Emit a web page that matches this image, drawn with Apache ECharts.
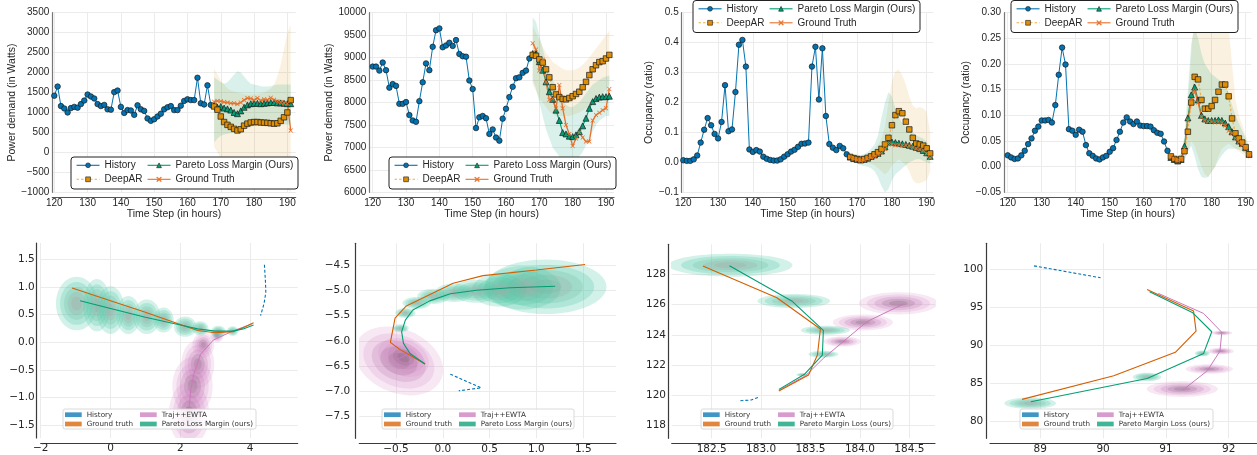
<!DOCTYPE html>
<html><head><meta charset="utf-8">
<script src="https://cdn.jsdelivr.net/npm/echarts@6/dist/echarts.min.js"></script>
<style>html,body{margin:0;padding:0;background:#fff}#c{width:1257px;height:455px}</style>
</head><body><div id="c"></div>
<script>
// ================= DATA =================
const hoursHist = [120,121,122,123,124,125,126,127,128,129,130,131,132,133,134,135,136,137,138,139,140,141,142,143,144,145,146,147,148,149,150,151,152,153,154,155,156,157,158,159,160,161,162,163,164,165,166,167];
const hoursFcst = [168,169,170,171,172,173,174,175,176,177,178,179,180,181,182,183,184,185,186,187,188,189,190,191];

// Panel 1 (power demand)
const p1Hist = [1420,1650,1160,1100,1000,1110,1140,1120,1210,1300,1450,1400,1350,1210,1160,1190,1080,1070,1510,1550,1140,990,1060,1050,940,1180,1080,1040,850,790,830,900,970,1080,1130,1160,1060,1060,1170,1290,1330,1310,1310,1870,1230,1200,1680,1190];
const p1Truth = [1270,1290,1280,1260,1250,1230,1230,1210,1250,1310,1360,1350,1310,1360,1300,1330,1320,1370,1320,1280,1260,1240,1220,550];
const p1Pareto = [1180,1130,1150,1110,1090,1060,1000,970,1040,1130,1190,1220,1230,1230,1220,1230,1240,1250,1250,1240,1240,1230,1220,1220];
const p1Deep = [1150,1070,900,760,690,640,590,550,580,670,720,750,760,760,750,745,740,730,720,730,790,880,1000,1310];
const p1ParLo = [250,350,420,450,470,480,490,500,520,560,600,640,660,680,690,700,700,700,700,700,700,700,700,700];
const p1ParHi = [1880,1820,1760,1720,1760,1850,1950,2030,2000,1900,1800,1720,1700,1680,1660,1650,1650,1660,1680,1700,1700,1700,1700,1700];
const p1DeepLo = [150,0,-150,-220,-300,-350,-380,-400,-380,-360,-350,-330,-300,-300,-300,-300,-320,-350,-400,-500,-600,-750,-900,-1000];
const p1DeepHi = [2100,1950,1800,1700,1600,1550,1520,1500,1480,1460,1450,1450,1450,1460,1480,1500,1550,1600,1700,1900,2200,2600,3000,3200];

// Panel 2 (power demand)
const p2Hist = [8800,8800,8710,8890,8720,8330,8410,8370,7970,7970,8010,7720,7600,7570,8030,8450,8870,8720,9240,9610,9650,9230,9270,9330,9260,9390,9080,9030,9020,8490,8300,7430,7670,7700,7650,7300,7400,7220,7150,7640,7860,8120,8350,8540,8560,8660,8710,8980];
const p2Truth = [9320,9180,8710,8950,8460,8060,8090,7870,8390,7870,7500,7300,7030,7200,7330,7220,7130,7130,7600,7720,7770,7830,7870,8300];
const p2Pareto = [9090,9090,8910,8720,8460,8240,8070,7830,7600,7330,7300,7250,7240,7280,7350,7480,7650,7870,8020,8090,8120,8130,8130,8140];
const p2Deep = [9060,9040,8960,8890,8740,8560,8340,8180,8120,8080,8070,8100,8140,8190,8240,8340,8460,8610,8740,8830,8900,8920,8980,9060];
const p2ParLo = [8500,8300,8000,7700,7400,7200,7000,6900,6800,6750,6700,6700,6700,6750,6800,6900,7050,7200,7350,7500,7600,7650,7700,7700];
const p2ParHi = [9900,9800,9500,9200,8900,8700,8500,8350,8200,8050,7950,7900,7900,7950,8000,8100,8200,8300,8400,8450,8500,8550,8580,8600];
const p2DeepLo = [8400,8250,8100,8000,7900,7800,7750,7700,7700,7700,7700,7700,7720,7750,7780,7820,7870,7920,7980,8050,8120,8200,8300,8400];
const p2DeepHi = [9700,9550,9400,9250,9100,9000,8900,8850,8800,8750,8720,8720,8720,8740,8780,8840,8920,9000,9100,9200,9300,9400,9500,9600];

// Panel 3 (occupancy)
const p3Hist = [0.007,0.005,0.005,0.01,0.023,0.066,0.109,0.148,0.124,0.095,0.08,0.135,0.258,0.104,0.11,0.235,0.393,0.409,0.32,0.043,0.035,0.041,0.036,0.019,0.012,0.008,0.006,0.006,0.01,0.019,0.027,0.036,0.042,0.052,0.062,0.063,0.066,0.32,0.386,0.21,0.381,0.155,0.061,0.049,0.041,0.055,0.047,0.027];
const p3Truth = [0.018,0.012,0.008,0.005,0.007,0.012,0.016,0.02,0.026,0.032,0.045,0.063,0.06,0.057,0.058,0.056,0.057,0.055,0.05,0.046,0.044,0.04,0.03,0.015];
const p3Pareto = [0.018,0.013,0.01,0.008,0.01,0.014,0.02,0.025,0.03,0.038,0.052,0.068,0.068,0.066,0.064,0.062,0.06,0.057,0.054,0.05,0.046,0.04,0.032,0.02];
const p3Deep = [0.018,0.014,0.011,0.009,0.011,0.015,0.02,0.027,0.034,0.045,0.06,0.082,0.124,0.158,0.171,0.164,0.136,0.11,0.082,0.063,0.06,0.056,0.047,0.03];
const p3ParLo = [0.005,0.0,-0.005,-0.01,-0.012,-0.015,-0.02,-0.03,-0.05,-0.08,-0.1,-0.09,-0.06,-0.04,-0.03,-0.02,-0.01,0.0,0.005,0.01,0.01,0.005,0.0,-0.005];
const p3ParHi = [0.03,0.028,0.026,0.025,0.028,0.035,0.045,0.06,0.09,0.15,0.2,0.235,0.22,0.18,0.15,0.13,0.12,0.11,0.1,0.09,0.085,0.08,0.07,0.05];
const p3DeepLo = [0.005,0.002,0.0,-0.002,0.0,0.0,-0.005,-0.01,-0.02,-0.03,-0.04,-0.03,-0.01,0.0,0.01,0.0,-0.01,-0.03,-0.06,-0.07,-0.07,-0.065,-0.06,-0.03];
const p3DeepHi = [0.03,0.028,0.025,0.022,0.025,0.03,0.035,0.045,0.06,0.08,0.12,0.2,0.27,0.305,0.31,0.29,0.26,0.22,0.19,0.18,0.185,0.18,0.17,0.1];

// Panel 4 (occupancy)
const p4Hist = [0.022,0.018,0.015,0.016,0.022,0.031,0.044,0.055,0.07,0.078,0.09,0.09,0.091,0.086,0.12,0.179,0.232,0.199,0.073,0.07,0.062,0.072,0.068,0.042,0.026,0.021,0.016,0.014,0.018,0.021,0.029,0.036,0.052,0.068,0.086,0.096,0.088,0.083,0.088,0.08,0.079,0.079,0.078,0.071,0.066,0.064,0.049,0.031];
const p4Truth = [0.02,0.015,0.012,0.013,0.035,0.09,0.13,0.148,0.125,0.097,0.09,0.088,0.087,0.086,0.087,0.085,0.08,0.07,0.065,0.055,0.048,0.042,0.035,0.022];
const p4Pareto = [0.018,0.014,0.011,0.014,0.04,0.095,0.14,0.155,0.13,0.1,0.093,0.09,0.09,0.09,0.091,0.09,0.085,0.078,0.068,0.058,0.05,0.045,0.037,0.024];
const p4Deep = [0.02,0.015,0.013,0.015,0.03,0.068,0.125,0.175,0.17,0.13,0.113,0.113,0.118,0.13,0.146,0.16,0.16,0.137,0.094,0.065,0.055,0.047,0.038,0.024];
const p4ParLo = [0.012,0.008,0.005,0.005,0.012,0.03,0.04,0.02,-0.005,-0.02,-0.022,-0.02,-0.01,0.0,0.012,0.022,0.03,0.035,0.035,0.035,0.033,0.03,0.025,0.015];
const p4ParHi = [0.025,0.022,0.02,0.025,0.06,0.15,0.24,0.27,0.25,0.22,0.2,0.19,0.18,0.175,0.17,0.165,0.16,0.14,0.12,0.1,0.085,0.07,0.055,0.035];
const p4DeepLo = [0.012,0.01,0.008,0.008,0.015,0.03,0.05,0.04,0.02,0.0,-0.015,-0.02,-0.01,0.0,0.02,0.035,0.04,0.045,0.04,0.035,0.03,0.025,0.02,0.012];
const p4DeepHi = [0.025,0.022,0.02,0.025,0.05,0.12,0.22,0.32,0.33,0.29,0.26,0.27,0.3,0.32,0.33,0.33,0.31,0.27,0.2,0.13,0.1,0.08,0.06,0.04];

// Bottom panels: trajectories [x, y]; density blobs [x, y, rx, ry, rotation]
const t5Hist = [[4.41,1.4],[4.44,1.1],[4.45,0.9],[4.4,0.7],[4.3,0.48]];
const t5Truth = [[4.1,0.35],[3.8,0.26],[3.5,0.19],[3.0,0.17],[2.5,0.21],[2.0,0.32],[1.0,0.54],[0.0,0.75],[-1.1,0.98]];
const t5Pareto = [[4.1,0.31],[3.8,0.24],[3.5,0.2],[3.0,0.2],[2.5,0.24],[2.0,0.31],[1.0,0.45],[0.0,0.61],[-0.87,0.75]];
const t5Traj = [[4.05,0.33],[3.5,0.2],[2.95,0.04],[2.58,-0.22],[2.39,-0.57],[2.3,-0.87],[2.25,-1.2]];
const b5Pareto = [[-0.97,0.70,0.55,0.45],[-0.39,0.67,0.36,0.44],[0.0,0.58,0.37,0.4],[0.51,0.49,0.32,0.32],[1.04,0.46,0.36,0.29],[1.52,0.40,0.27,0.21],[2.14,0.28,0.3,0.17],[2.57,0.25,0.22,0.12],[3.09,0.19,0.2,0.1],[3.5,0.2,0.15,0.08]];
const b5Traj = [[3.05,0.12,0.18,0.12],[2.66,-0.05,0.3,0.22],[2.5,-0.4,0.45,0.42],[2.35,-0.8,0.55,0.5],[2.25,-1.3,0.55,0.55]];

const t6Hist = [[0.08,-6.66],[0.41,-6.93],[0.17,-6.99]];
const t6Truth = [[-0.19,-6.46],[-0.46,-6.17],[-0.56,-6.03],[-0.51,-5.55],[-0.39,-5.31],[0.11,-4.86],[0.43,-4.71],[1.0,-4.6],[1.52,-4.49]];
const t6Pareto = [[-0.19,-6.46],[-0.35,-6.25],[-0.42,-6.05],[-0.44,-5.82],[-0.40,-5.59],[-0.32,-5.39],[-0.14,-5.21],[0.08,-5.07],[0.36,-5.0],[0.72,-4.95],[1.2,-4.92]];
const t6Traj = [[-0.19,-6.45],[-0.33,-6.3],[-0.42,-6.2],[-0.36,-6.24],[-0.44,-6.33],[-0.5,-6.38]];
const b6Pareto = [[1.1,-4.93,0.6,0.5],[0.85,-4.95,0.38,0.4],[0.6,-5.0,0.27,0.3],[0.35,-5.02,0.23,0.21],[0.12,-5.05,0.19,0.17],[-0.1,-5.12,0.16,0.14],[-0.28,-5.25,0.14,0.11],[-0.4,-5.45,0.1,0.09],[-0.45,-5.75,0.08,0.07]];
const b6Traj = [[-0.47,-6.4,0.47,0.6,-0.4],[-0.42,-6.33,0.27,0.34,-0.4]];

const t7Hist = [[182.79,119.65],[182.9,119.7],[182.88,119.8],[182.97,119.87]];
const t7Truth = [[183.18,120.3],[183.48,121.35],[183.57,122.67],[183.6,124.39],[183.16,126.45],[182.41,128.55]];
const t7Pareto = [[183.18,120.4],[183.44,121.4],[183.62,122.67],[183.63,124.3],[183.31,126.24],[182.68,128.57]];
const t7Traj = [[183.18,120.35],[183.45,121.3],[183.63,122.45],[183.83,123.55],[184.07,124.87],[184.44,126.04]];
const b7Pareto = [[182.69,128.6,0.58,0.7],[183.33,126.24,0.34,0.43],[183.65,124.3,0.23,0.28],[183.63,122.72,0.14,0.21],[183.42,121.37,0.06,0.1]];
const b7Traj = [[184.39,126.08,0.38,0.7],[184.03,124.82,0.29,0.5],[183.82,123.56,0.18,0.32]];

const t8Hist = [[88.9,100.43],[89.96,98.86]];
const t8Truth = [[90.70,97.33],[91.44,94.47],[91.48,91.84],[91.15,89.04],[90.17,85.96],[88.71,82.85]];
const t8Pareto = [[90.74,97.01],[91.42,94.3],[91.73,91.75],[91.6,88.9],[90.7,85.6],[88.85,82.54]];
const t8Traj = [[90.88,96.8],[91.6,94.16],[91.89,91.67],[91.86,89.2],[91.66,86.62],[91.27,84.08]];
const b8Pareto = [[88.84,82.33,0.38,0.7],[90.7,85.8,0.21,0.52],[91.58,88.9,0.11,0.35]];
const b8Traj = [[91.26,84.2,0.54,0.98],[91.69,86.84,0.36,0.6],[91.87,89.2,0.2,0.42],[91.89,91.6,0.16,0.28]];

// ================= STYLE / LAYOUT =================
const FT = 'Liberation Sans', FB = 'DejaVu Sans', TXT = '#262626';
const C = {blue:'#0173b2', orange:'#de8f05', green:'#029e73', verm:'#d55e00', pink:'#cc78bc'};
const XSYM = 'path://M0,1.2L1.2,0L5,3.8L8.8,0L10,1.2L6.2,5L10,8.8L8.8,10L5,6.2L1.2,10L0,8.8L3.8,5Z';

const grids = [
  {left:52.3, top:12.7, width:243.4, height:179.6},
  {left:369.3, top:12.7, width:244.7, height:179.6},
  {left:681.7, top:12.7, width:251.6, height:179.6},
  {left:1004, top:12.7, width:247.7, height:179.6},
  {left:40.7, top:243, width:257, height:195},
  {left:359.3, top:243.3, width:256.7, height:195},
  {left:671.7, top:244.3, width:263.3, height:194},
  {left:990, top:243.3, width:267, height:195}
];

function fmtFn(dec){ return v => { let s = (Math.abs(v) < 1e-9 ? 0 : v).toFixed(dec); return s.replace('-', '\u2212'); }; }
function axis(gi, ext, step, dec, o) {
  const min = ext[0], max = ext[1];
  const isT = v => Math.abs(v/step - Math.round(v/step)) < 1e-6;
  const f = fmtFn(dec);
  const a = {
    type:'value', gridIndex:gi, min, max, minInterval:step, maxInterval:step,
    splitNumber: Math.max(1, Math.round((max-min)/step)),
    offset: o.offset || 0,
    axisLine:{show:true, onZero:false, lineStyle:{color:o.lc, width:o.lw}},
    axisTick:{show:false},
    axisLabel:{show:true, margin:o.margin, fontSize:o.fs, fontFamily:o.font, color:TXT,
      showMinLabel:isT(min), showMaxLabel:isT(max), formatter: v => isT(v) ? f(v) : ''},
    splitLine:{show:true, showMinLine:isT(min), showMaxLine:isT(max), lineStyle:{color:'#ebebeb', width:1}}
  };
  if (o.name) {
    a.name = o.name; a.nameLocation = 'middle'; a.nameGap = o.nameGap;
    a.nameTextStyle = {fontSize:10.5, fontFamily:FT, color:TXT};
  }
  return a;
}

const xAxes = [], yAxes = [];
const topX = [[119.4,192.5],[118.98,192.4],[119.54,191.9],[118.9,191.67]];
const topY = [[[-1000,3500],500,0,'Power demand (in Watts)',34.3],[[6000,10000],500,0,'Power demand (in Watts)',32.3],[[-0.1,0.5],0.1,1,'Occupancy (ratio)',26.4],[[-0.05,0.30],0.05,2,'Occupancy (ratio)',29.4]];
for (let i=0;i<4;i++){
  xAxes.push(axis(i, topX[i], 10, 0, {offset:4.5, lc:'#555', lw:1.2, margin:1, fs:10, font:FT, name:'Time Step (in hours)', nameGap:9}));
  yAxes.push(axis(i, topY[i][0], topY[i][1], topY[i][2], {offset:0, lc:'#777', lw:1.2, margin:3, fs:10, font:FT, name:topY[i][3], nameGap:topY[i][4]}));
}
const botX = [[[-2.0,5.364],2,0],[[-0.892,1.85],0.5,1],[[182.095,184.76],0.5,1],[[88.2,92.45],1,0]];
const botY = [[[-1.735,1.795],0.5,1,4,2],[[-7.93,-4.07],0.5,1,3.6,5.5],[[117.17,129.98],2,0,3.4,2.3],[[77.72,103.4],5,0,3.3,3.4]];
for (let i=0;i<4;i++){
  xAxes.push(axis(4+i, botX[i][0], botX[i][1], botX[i][2], {offset:5, lc:'#3a3a3a', lw:1.2, margin:0, fs:10.5, font:FB}));
  yAxes.push(axis(4+i, botY[i][0], botY[i][1], botY[i][2], {offset:botY[i][3], lc:'#3a3a3a', lw:1.2, margin:botY[i][4], fs:10.5, font:FB}));
}

// ================= SERIES =================
const series = [];
function band(gi, lo, hi, fill){
  series.push({type:'custom', xAxisIndex:gi, yAxisIndex:gi, z:1, silent:true, clip:true, animation:false,
    data: hoursFcst.map((x,i)=>[x, lo[i], hi[i]]), encode:{x:0, y:[1,2]},
    renderItem:(params, api)=>{
      if (params.dataIndex !== 0) return null;
      const top = hoursFcst.map((x,i)=>api.coord([x, hi[i]]));
      const bot = hoursFcst.map((x,i)=>api.coord([x, lo[i]])).reverse();
      return {type:'polygon', shape:{points: top.concat(bot)}, style:{fill}};
    }});
}
const STY = {
  'History': {sym:'circle', size:5.5, color:C.blue, line:{color:C.blue, width:1}, border:'#1a1a1a'},
  'Pareto Loss Margin (Ours)': {sym:'triangle', size:6, color:C.green, line:{color:C.green, width:1.1}, border:'#1a1a1a'},
  'DeepAR': {sym:'rect', size:5.5, color:C.orange, line:{color:'#f0b048', width:1.2, type:[2.5,2]}, border:'#1a1a1a'},
  'Ground Truth': {sym:XSYM, size:4.5, color:'#e8702a', line:{color:'#e8702a', width:1.3}, border:null}
};
function tline(gi, name, xs, ys){
  const s = STY[name];
  series.push({type:'line', name, xAxisIndex:gi, yAxisIndex:gi, z:2, silent:true, animation:false,
    data: xs.map((x,i)=>[x, ys[i]]), symbol:s.sym, symbolSize:s.size, showSymbol:true, showAllSymbol:true,
    itemStyle:{color:s.color, borderColor:s.border || s.color, borderWidth:s.border?0.7:0},
    lineStyle:s.line, emphasis:{disabled:true}});
}
const tops = [
  [p1Hist,p1Pareto,p1Deep,p1Truth,p1ParLo,p1ParHi,p1DeepLo,p1DeepHi],
  [p2Hist,p2Pareto,p2Deep,p2Truth,p2ParLo,p2ParHi,p2DeepLo,p2DeepHi],
  [p3Hist,p3Pareto,p3Deep,p3Truth,p3ParLo,p3ParHi,p3DeepLo,p3DeepHi],
  [p4Hist,p4Pareto,p4Deep,p4Truth,p4ParLo,p4ParHi,p4DeepLo,p4DeepHi]
];
tops.forEach((d,gi)=>{
  band(gi, d[6], d[7], 'rgba(222,143,5,0.12)');
  band(gi, d[4], d[5], 'rgba(2,158,115,0.15)');
  tline(gi,'History', hoursHist, d[0]);
  tline(gi,'Pareto Loss Margin (Ours)', hoursFcst, d[1]);
  tline(gi,'DeepAR', hoursFcst, d[2]);
  tline(gi,'Ground Truth', hoursFcst, d[3]);
});

const GREEN_L = [[1.08,'rgba(80,200,165,0.26)'],[0.86,'rgba(80,200,165,0.26)'],[0.66,'rgba(115,190,165,0.26)'],[0.47,'rgba(160,176,168,0.3)'],[0.28,'rgba(168,168,168,0.32)']];
const PINK_L = [[1.05,'rgba(214,140,200,0.2)'],[0.84,'rgba(214,140,200,0.22)'],[0.64,'rgba(190,120,175,0.24)'],[0.44,'rgba(150,105,140,0.26)'],[0.25,'rgba(120,100,115,0.26)']];
function blobs(gi, data, layers){
  series.push({type:'custom', xAxisIndex:gi, yAxisIndex:gi, z:1, silent:true, clip:true, animation:false,
    data, encode:{x:0, y:1},
    renderItem:(params, api)=>{
      const c = api.coord([api.value(0), api.value(1)]);
      const s = api.size([api.value(2), api.value(3)]);
      const rot = api.value(4) || 0;
      return {type:'group', children: layers.map(l=>({type:'ellipse', x:c[0], y:c[1], rotation:rot,
        shape:{cx:0, cy:0, rx:s[0]*l[0], ry:s[1]*l[0]}, style:{fill:l[1]}}))};
    }});
}
function bline(gi, name, pts, color, width, type){
  series.push({type:'line', name, xAxisIndex:gi, yAxisIndex:gi, z:2, silent:true, animation:false,
    data: pts, showSymbol:false, symbol:'none', itemStyle:{color}, lineStyle:{color, width, type:type||'solid'}, emphasis:{disabled:true}});
}
const bots = [
  [t5Hist,t5Truth,t5Pareto,t5Traj,b5Pareto,b5Traj,'Pareto Loss Margin (ours)'],
  [t6Hist,t6Truth,t6Pareto,t6Traj,b6Pareto,b6Traj,'Pareto Loss Margin (ours)'],
  [t7Hist,t7Truth,t7Pareto,t7Traj,b7Pareto,b7Traj,'Pareto Margin Loss (ours)'],
  [t8Hist,t8Truth,t8Pareto,t8Traj,b8Pareto,b8Traj,'Pareto Margin Loss (ours)']
];
bots.forEach((d,k)=>{
  const gi = 4+k;
  blobs(gi, d[5], PINK_L);
  blobs(gi, d[4], GREEN_L);
  bline(gi, 'Traj++EWTA', d[3], C.pink, 1);
  bline(gi, 'Ground truth', d[1], C.verm, 1.1);
  bline(gi, d[6], d[2], C.green, 1.1);
  bline(gi, 'History', d[0], C.blue, 1.1, [3,2]);
});

// ================= LEGENDS =================
const legends = [], boxes = [];
const topBoxes = [[71,157],[389,157],[693,0.5],[1011,0.5]];
topBoxes.forEach(b=>{
  boxes.push({type:'rect', z:3, silent:true, shape:{x:b[0], y:b[1], width:227, height:32, r:3}, style:{fill:'#ffffff', stroke:'#222', lineWidth:1}});
  const common = {orient:'vertical', itemWidth:23, itemHeight:6, itemGap:0, padding:0, selectedMode:false,
    itemStyle:{borderWidth:0.6}, lineStyle:{width:1.1},
    textStyle:{fontSize:10, fontFamily:FT, color:TXT, lineHeight:14}};
  legends.push(Object.assign({}, common, {left:b[0]+5, top:b[1]+1.3, data:['History','DeepAR']}));
  legends.push(Object.assign({}, common, {left:b[0]+76, top:b[1]+1.3, data:['Pareto Loss Margin (Ours)','Ground Truth']}));
});
const botBoxes = [[63,409,193,'Pareto Loss Margin (ours)'],[382,409,192,'Pareto Loss Margin (ours)'],[701,409,192,'Pareto Margin Loss (ours)'],[1020,409,193,'Pareto Margin Loss (ours)']];
function pi(name, color){ return {name, icon:'rect', itemStyle:{color, borderColor:color, borderWidth:0}}; }
botBoxes.forEach(b=>{
  boxes.push({type:'rect', z:3, silent:true, shape:{x:b[0], y:b[1], width:b[2], height:20, r:2}, style:{fill:'rgba(255,255,255,0.85)', stroke:'#d0d0d0', lineWidth:0.8}});
  const common = {orient:'vertical', itemWidth:16.7, itemHeight:4.7, itemGap:0, padding:0, selectedMode:false,
    textStyle:{fontSize:7.2, fontFamily:FB, color:'#333', lineHeight:9.3}};
  legends.push(Object.assign({}, common, {left:b[0]+2, top:b[1]+1.05, data:[pi('History','#4096c5'), pi('Ground truth','#e0863f')]}));
  legends.push(Object.assign({}, common, {left:b[0]+77, top:b[1]+1.05, data:[pi('Traj++EWTA','#d99acd'), pi(b[3],'#40b696')]}));
});

const chart = echarts.init(document.getElementById('c'), null, {renderer:'canvas'});
chart.setOption({
  animation:false, backgroundColor:'#ffffff',
  grid: grids.map(g=>Object.assign({containLabel:false}, g)),
  xAxis: xAxes, yAxis: yAxes, series, legend: legends,
  graphic: {elements: boxes}
});
</script></body></html>
